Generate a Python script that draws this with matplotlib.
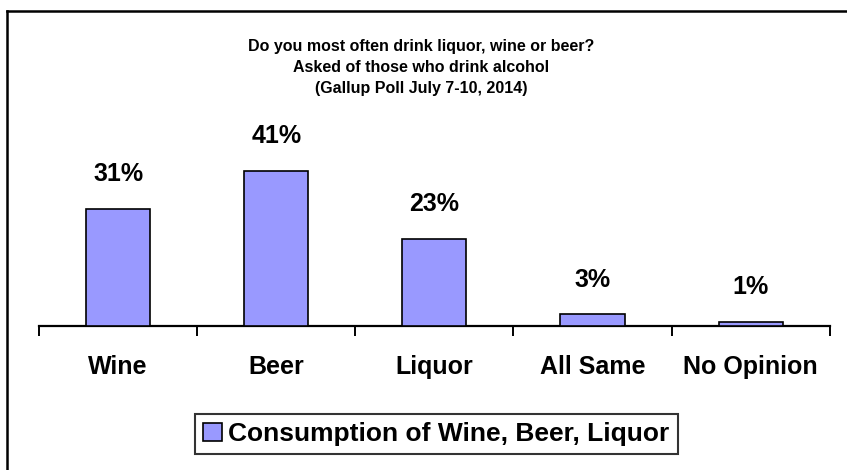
import matplotlib
matplotlib.use("Agg")
import matplotlib.pyplot as plt
from matplotlib.lines import Line2D

plt.rcParams["font.family"] = ["Liberation Sans", "DejaVu Sans"]
plt.rcParams["font.weight"] = "bold"

categories = ["Wine", "Beer", "Liquor", "All Same", "No Opinion"]
values = [31, 41, 23, 3, 1]
series_name = "Consumption of Wine, Beer, Liquor"
title_lines = ["Do you most often drink liquor, wine or beer?",
               "Asked of those who drink alcohol"]
subtitle = "(Gallup Poll July 7-10, 2014)"

W, H = 847, 470
fig = plt.figure(figsize=(W / 100, H / 100), dpi=100)

# axes placed so the baseline and ticks line up with the reference
left, right = 39 / W, 829.7 / W
bottom = (H - 325.7) / H
top = (H - 136.7) / H
ax = fig.add_axes([left, bottom, right - left, top - bottom])

x = range(len(categories))
bars = ax.bar(x, values, width=0.405, color="#9999FF", edgecolor="black",
              linewidth=1.2, label=series_name, zorder=3)
for b, v in zip(bars, values):
    ax.annotate(f"{v}%", (b.get_x() + b.get_width() / 2, b.get_height()),
                xytext=(0, 25), textcoords="offset points",
                ha="center", va="center", fontsize=18, fontweight="bold")

ax.set_xlim(-0.5, len(categories) - 0.5)
ax.set_ylim(0, 50)
for s in ["top", "right", "left"]:
    ax.spines[s].set_visible(False)
ax.spines["bottom"].set_linewidth(1.6)
ax.set_yticks([])

ax.set_xticks([i - 0.5 for i in range(len(categories) + 1)])
ax.set_xticklabels([])
ax.tick_params(axis="x", which="major", direction="out", length=7.5, width=1.4)
ax.set_xticks(list(x), minor=True)
ax.set_xticklabels(categories, minor=True, fontsize=18, fontweight="bold")
ax.tick_params(axis="x", which="minor", length=0, pad=21)

for txt, ypx in [(title_lines[0], 47), (title_lines[1], 68), (subtitle, 89)]:
    fig.text(421 / W, 1 - ypx / H, txt, ha="center", va="center",
             fontsize=11.5, fontweight="bold")

leg = fig.legend(loc="center", bbox_to_anchor=(436.5 / W, 1 - 434 / H),
                 fontsize=19, handlelength=0.7, handleheight=0.7,
                 handletextpad=0.25, fancybox=False, borderpad=0.3,
                 borderaxespad=0)
leg.get_frame().set_edgecolor("black")
leg.get_frame().set_linewidth(1.5)
for t in leg.get_texts():
    t.set_fontweight("bold")

# outer frame: left and top edges only
fig.add_artist(Line2D([7 / W, 7 / W], [0, 1 - 10.7 / H], transform=fig.transFigure,
                      color="black", linewidth=1.8))
fig.add_artist(Line2D([7 / W, 1], [1 - 10.7 / H, 1 - 10.7 / H], transform=fig.transFigure,
                      color="black", linewidth=1.8))

fig.savefig("out.png", dpi=100)
